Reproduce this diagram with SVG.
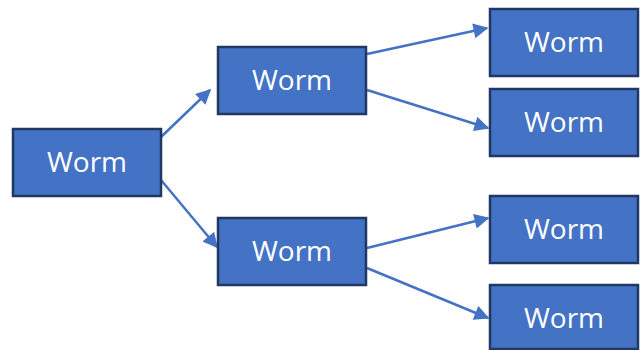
<svg xmlns="http://www.w3.org/2000/svg" width="642" height="350" viewBox="0 0 642 350">
  <style>
    .box { fill: #4472C4; stroke: #1F3864; stroke-width: 2.5; }
    .label { fill: #FFFFFF; font-family: "Open Sans", "Liberation Sans", sans-serif; font-size: 28px; text-anchor: middle; }
    .link { stroke: #4472C4; stroke-width: 2.5; fill: none; marker-end: url(#arrow); }
  </style>
  <defs>
    <marker id="arrow" viewBox="0 0 10 10" refX="9" refY="5" markerWidth="16" markerHeight="15" markerUnits="userSpaceOnUse" orient="auto">
      <path d="M0,0 L10,5 L0,10 Z" fill="#4472C4"/>
    </marker>
  </defs>

  <g id="connectors">
    <path class="link" d="M161,137 L210,90"/>
    <path class="link" d="M161,180 L217,247"/>
    <path class="link" d="M367,54 L487,28"/>
    <path class="link" d="M367,90 L488,128"/>
    <path class="link" d="M367,248 L488,218"/>
    <path class="link" d="M367,268 L488,318"/>
  </g>

  <g id="root">
    <rect class="box" x="13" y="129" width="148" height="67"/>
    <text class="label" x="87" y="172">Worm</text>
  </g>
  <g id="mid-top">
    <rect class="box" x="218" y="47" width="148" height="67"/>
    <text class="label" x="292" y="90">Worm</text>
  </g>
  <g id="mid-bottom">
    <rect class="box" x="218" y="218" width="148" height="67"/>
    <text class="label" x="292" y="261">Worm</text>
  </g>
  <g id="leaf-1">
    <rect class="box" x="490" y="9" width="148" height="67"/>
    <text class="label" x="564" y="52">Worm</text>
  </g>
  <g id="leaf-2">
    <rect class="box" x="490" y="89" width="148" height="67"/>
    <text class="label" x="564" y="132">Worm</text>
  </g>
  <g id="leaf-3">
    <rect class="box" x="490" y="196" width="148" height="67"/>
    <text class="label" x="564" y="239">Worm</text>
  </g>
  <g id="leaf-4">
    <rect class="box" x="490" y="285" width="148" height="64"/>
    <text class="label" x="564" y="328">Worm</text>
  </g>
</svg>
